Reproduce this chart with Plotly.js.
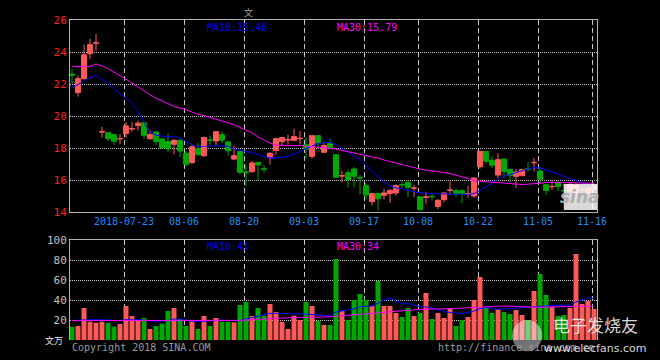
<!DOCTYPE html>
<html><head><meta charset="utf-8">
<script src="https://cdn.plot.ly/plotly-3.0.1.min.js"></script>
<style>html,body{margin:0;padding:0;background:#000;}#chart{width:660px;height:360px;}</style>
</head><body><div id="chart"></div>
<script>
var dates = ['07-10','07-11','07-12','07-13','07-16','07-17','07-18','07-19','07-20','07-23','07-24','07-25','07-26','07-27','07-30','07-31',
'08-01','08-02','08-03','08-06','08-07','08-08','08-09','08-10','08-13','08-14','08-15','08-16','08-17','08-20','08-21','08-22','08-23','08-24','08-27','08-28','08-29','08-30','08-31',
'09-03','09-04','09-05','09-06','09-07','09-10','09-11','09-12','09-13','09-14','09-17','09-18','09-19','09-20','09-21','09-25','09-26','09-27','09-28',
'10-08','10-09','10-10','10-11','10-12','10-15','10-16','10-17','10-18','10-19','10-22','10-23','10-24','10-25','10-26','10-29','10-30','10-31',
'11-01','11-02','11-05','11-06','11-07','11-08','11-09','11-12','11-13','11-14','11-15','11-16'];

var open  = [22.62,21.46,22.33,23.89,24.55,19.0,18.96,18.83,18.57,18.9, 19.19,19.4,19.58,18.58,19.0,18.56,18.4,18.23,18.48,17.67, 17.08,17.96,17.52,18.5,18.44,18.83,18.38,17.31,17.79,16.5, 16.52,17.1,16.7,17.38,17.85,18.4,18.5,18.48,18.58,18.21, 17.48,18.77,17.73,18.31,17.58,16.25,16.46,16.69,16.15,15.65, 14.65,15.15,15.04,15.15,15.19,15.72,15.85,15.48,14.94,14.92, 14.98,14.35,14.77,15.35,15.33,15.33,15.12,15.0,16.83,17.79, 17.23,16.31,17.31,16.65,16.23,16.27,16.71,17.08,16.56,15.71, 15.58,15.81,15.35,15.27,15.19,15.38,15.19,15.4];
var high  = [22.96,22.52,24.46,24.83,25.14,19.33,18.98,18.9,18.87,19.63, 19.63,19.71,19.6,19.15,19.0,18.65,18.9,18.56,18.58,17.81, 18.23,18.31,18.7,18.77,19.05,19.02,18.4,18.15,17.8,16.96, 17.2,17.15,16.92,17.73,18.65,18.69,18.83,19.21,19.06,18.69, 18.8,18.8,18.4,18.58,17.6,16.58,16.65,16.81,16.31,15.81, 15.19,15.27,15.46,15.44,15.73,15.98,16.0,15.69,15.0,15.27, 15.19,14.81,15.2,15.92,15.48,15.44,15.65,16.15,17.8,17.8, 17.48,17.67,17.35,16.7,16.69,16.69,17.13,17.38,16.81,15.77, 16.02,16.0,15.77,15.8,15.83,15.6,15.55,15.81];
var low   = [22.0,21.21,22.3,23.58,24.08,18.65,18.42,18.19,18.23,18.65, 19.02,19.1,18.54,18.54,18.19,17.92,17.73,17.6,17.44,16.85, 17.02,17.5,17.45,18.15,18.15,18.31,17.52,17.23,16.33,15.6, 16.44,15.92,16.44,16.96,17.6,18.15,18.21,18.42,18.21,17.33, 17.33,17.94,17.69,17.94,16.15,15.85,15.54,15.54,15.1,14.73, 14.4,14.08,14.79,14.56,15.02,15.48,14.94,14.94,14.08,14.52, 14.73,14.19,14.6,15.1,14.94,14.56,14.9,14.9,16.71,17.02, 16.75,16.13,16.13,15.85,15.5,16.23,16.54,16.54,15.75,15.06, 15.4,15.31,15.23,14.9,14.46,15.06,15.06,15.27];
var close = [22.55,22.33,23.83,24.46,24.57,19.02,18.58,18.42,18.59,19.38, 19.21,19.55,18.79,18.85,18.4,18.02,17.94,18.48,17.81,16.98, 18.08,17.6,18.65,18.48,19.02,18.48,17.83,17.52,16.48,16.48, 17.06,16.94,16.68,17.67,18.58,18.65,18.52,18.71,18.6,17.94, 18.77,18.31,18.15,18.04,16.17,16.27,16.0,16.23,16.13,15.06, 15.15,14.83,15.19,15.35,15.65,15.7,15.54,15.5,14.15,14.94, 14.96,14.73,15.19,15.37,15.13,15.15,15.15,16.13,17.79,17.17, 16.92,17.27,16.54,16.29,16.5,16.65,16.69,17.1,16.04,15.35, 15.6,15.58,15.33,15.73,15.65,15.4,15.5,15.65];

var ma10 = [21.75,21.95,22.2,22.4,22.54,22.3,22.02,21.7,21.4,21.15, 20.8,20.3,19.6,19.0,18.8,18.75,18.73,18.7,18.65,18.4, 18.2,18.08,18.08,18.12,18.15,18.15,18.12,17.95,17.85,17.78, 17.7,17.56,17.45,17.38,17.38,17.4,17.5,17.62,17.79,17.95, 18.1,18.28,18.33,18.35,18.2,18.0,17.75,17.5,17.27,16.9, 16.55,16.15,15.85,15.65,15.5,15.45,15.35,15.28,15.2,15.17, 15.15,15.14,15.13,15.12,15.1,15.08,15.1,15.15,15.35,15.6, 15.8,16.05,16.25,16.33,16.45,16.6,16.7,16.78,16.75,16.65, 16.5,16.38,16.2,16.08,15.98,15.85,15.7,15.48];
var ma30 = [23.1,23.1,23.1,23.1,23.25,23.15,22.95,22.75,22.5,22.3, 22.05,21.8,21.55,21.35,21.1,20.95,20.75,20.6,20.5,20.4, 20.25,20.1,20.02,19.92,19.82,19.72,19.58,19.45,19.3,19.12, 18.95,18.7,18.5,18.31,18.17,18.15,18.15,18.15,18.15,18.1, 18.06,18.06,18.03,18.0,17.93,17.85,17.76,17.68,17.6,17.52, 17.45,17.38,17.25,17.15,17.04,16.95,16.85,16.75,16.68,16.62, 16.58,16.54,16.47,16.4,16.3,16.22,16.1,15.96,15.92,15.88, 15.85,15.83,15.81,15.8,15.75,15.71,15.72,15.77,15.8,15.85, 15.85,15.85,15.85,15.83,15.82,15.81,15.8,15.79];

var volume = [13.3,14,32,18.3,17.3,18.3,17.3,13.3,16,34, 24,20,22,11,14,16.3,29,32,21,14, 19,11,24,14,22,18.3,18.3,17.7,35,38, 24,32,24.3,36,28,18.3,11,24.3,20,38, 34,19,15,15,81,29.3,20,40,46,40, 34,59,34,34,27,23,32,24,27,47, 21,27,22,32,14,20,23,40,63,32, 27,31,28,26,30,25,20,49,66,45, 33,24,25,32,86,36,39,31];
var volMa10 = [19.5,20,20.3,20.3,20.3,20.3,20,19.5,19.5,20.3, 20.3,20.3,20,19,18.7,18.7,19.5,21,21,20, 18.7,18.7,18.7,19,19.5,20,19.5,19.3,19.3,21, 22.3,24,25.5,26.7,26.7,26.7,26.7,26.7,26.7,26, 25.5,25,24.7,24.3,28,29.3,30,31,33.3,33.7, 34,37,40,41.7,39,36,36.5,35,33.3,33, 32,30,28.5,27.5,27,26.7,27.5,29,31.5,32.3, 31.5,30.7,31,31.5,32,32.3,32.5,33,33.3,34, 34.5,34.7,35,35,38,40.5,42.5,41];
var volMa30 = [19.5,19.5,19.6,19.6,19.7,19.7,19.7,19.6,19.5,19.5, 19.6,19.6,19.6,19.5,19.4,19.3,19.3,19.4,19.5,19.5, 19.4,19.3,19.3,19.2,19.2,19.0,19.1,19.3,19.6,20.0, 20.4,20.8,21.2,21.6,21.9,22.1,22.2,22.3,22.4,22.5, 22.6,22.7,22.9,23.2,23.8,24.2,24.6,25,25.4,25.8, 26.3,27,27.6,28.2,28.8,29.4,30,30.4,30.7,30.8, 30.8,31,31.2,31.4,31.6,31.8,32.1,32.4,32.8,33.2, 33.6,34,34,33.8,33.4,33,32.8,32.7,32.8,33, 33.2,33.3,33.3,33.3,33.5,33.7,33.9,34];

var tickDates  = ['07-23','08-06','08-20','09-03','09-17','10-08','10-22','11-05','11-16'];
var tickLabels = ['2018-07-23','08-06','08-20','09-03','09-17','10-08','10-22','11-05','11-16'];
var priceTicks = [14,16,18,20,22,24,26];
var volTicks = [20,40,60,80,100];

var RED = '#ff5a5a', GREEN = '#00a800';
var MONO = 'DejaVu Sans Mono, monospace';
var idx = dates.map(function(d,i){return i;});
var tickIdx = tickDates.map(function(d){return dates.indexOf(d) - 0.33;});
var volColors = close.map(function(c,i){return c >= open[i] ? RED : GREEN;});

var traces = [
  {type:'candlestick', x:idx, open:open, high:high, low:low, close:close, xaxis:'x', yaxis:'y',
   increasing:{line:{color:RED,width:1}, fillcolor:RED},
   decreasing:{line:{color:GREEN,width:1}, fillcolor:GREEN},
   whiskerwidth:0, hoverinfo:'skip'},
  {type:'scatter', mode:'lines', x:idx, y:ma10, line:{color:'#0000ff',width:1}, xaxis:'x', yaxis:'y', hoverinfo:'skip'},
  {type:'scatter', mode:'lines', x:idx, y:ma30, line:{color:'#ff00ff',width:1}, xaxis:'x', yaxis:'y', hoverinfo:'skip'},
  {type:'bar', x:idx, y:volume, marker:{color:volColors, line:{width:0}}, width:0.83, xaxis:'x2', yaxis:'y2', hoverinfo:'skip'},
  {type:'scatter', mode:'lines', x:idx, y:volMa10, line:{color:'#0000ff',width:1}, xaxis:'x2', yaxis:'y2', hoverinfo:'skip'},
  {type:'scatter', mode:'lines', x:idx, y:volMa30, line:{color:'#ff00ff',width:1}, xaxis:'x2', yaxis:'y2', hoverinfo:'skip'}
];

var GRID = '#c8c8c8', BORDER = '#b4b4b4';
var layout = {
  width:660, height:360, margin:{l:70, r:63, t:20, b:20},
  paper_bgcolor:'#000', plot_bgcolor:'#000', showlegend:false, hovermode:false,
  boxgap:0.15, boxgroupgap:0, barmode:'overlay',
  font:{family:MONO, size:10, color:'#c0c0c0'},
  xaxis:{domain:[0,1], anchor:'y', range:[-0.333, 87.5], rangeslider:{visible:false},
    tickmode:'array', tickvals:tickIdx, ticktext:tickLabels, ticks:'',
    tickfont:{family:MONO, size:10, color:'#1e8cff'},
    showgrid:true, gridcolor:GRID, griddash:'5px,3px', gridwidth:1,
    showline:true, mirror:true, linecolor:BORDER, linewidth:1, zeroline:false, fixedrange:true},
  yaxis:{domain:[0.4,1], anchor:'x', range:[14,26], tickmode:'array', tickvals:priceTicks, ticks:'',
    tickfont:{family:MONO, size:11, color:'#ff1e1e'},
    showgrid:true, gridcolor:GRID, griddash:'1px,1px', gridwidth:1,
    showline:true, mirror:true, linecolor:BORDER, linewidth:1, zeroline:false, fixedrange:true},
  xaxis2:{domain:[0,1], anchor:'y2', matches:'x', showticklabels:false, ticks:'', side:'top',
    tickmode:'array', tickvals:tickIdx,
    showgrid:true, gridcolor:GRID, griddash:'5px,3px', gridwidth:1,
    showline:true, mirror:false, linecolor:BORDER, linewidth:1, zeroline:false, fixedrange:true},
  yaxis2:{domain:[0,0.3125], anchor:'x2', range:[0,100], tickmode:'array', tickvals:volTicks, ticks:'',
    tickfont:{family:MONO, size:11, color:'#c0c0c0'},
    showgrid:true, gridcolor:GRID, griddash:'1px,1px', gridwidth:1,
    showline:true, mirror:true, linecolor:BORDER, linewidth:1, zeroline:false, fixedrange:true},
  shapes:[
    {type:'rect', xref:'paper', yref:'paper', x0:0.937, x1:1.0, y0:0.406, y1:0.4875, fillcolor:'rgba(255,255,255,0.85)', line:{width:0}, layer:'above'},
    {type:'circle', xref:'paper', yref:'paper', x0:0.839, x1:0.896, y0:-0.035, y1:0.0625, fillcolor:'rgba(255,255,255,0.45)', line:{width:0}, layer:'above'}
  ],
  annotations:[
    {xref:'paper', yref:'paper', x:0.256, y:0.978, xanchor:'left', yanchor:'middle', showarrow:false, text:'MA10:15.48', font:{family:MONO, size:10, color:'#0000ff'}},
    {xref:'paper', yref:'paper', x:0.503, y:0.978, xanchor:'left', yanchor:'middle', showarrow:false, text:'MA30:15.79', font:{family:MONO, size:10, color:'#ff00ff'}},
    {xref:'paper', yref:'paper', x:0.256, y:0.292, xanchor:'left', yanchor:'middle', showarrow:false, text:'MA10:41', font:{family:MONO, size:10, color:'#0000ff'}},
    {xref:'paper', yref:'paper', x:0.503, y:0.292, xanchor:'left', yanchor:'middle', showarrow:false, text:'MA30:34', font:{family:MONO, size:10, color:'#ff00ff'}},
    {xref:'paper', yref:'paper', x:0.338, y:1.025, xanchor:'center', yanchor:'middle', showarrow:false, text:'文', font:{family:'Noto Sans CJK SC', size:9, color:'#a0a0a0'}},
    {xref:'paper', yref:'paper', x:-0.01, y:-0.003, xanchor:'right', yanchor:'middle', showarrow:false, text:'文万', font:{family:'Noto Sans CJK SC', size:9, color:'#e8e8e8'}},
    {xref:'paper', yref:'paper', x:0, y:-0.022, xanchor:'left', yanchor:'middle', showarrow:false, text:'Copyright 2018 SINA.COM', font:{family:MONO, size:10, color:'#9a9a9a'}},
    {xref:'paper', yref:'paper', x:1, y:-0.022, xanchor:'right', yanchor:'middle', showarrow:false, text:'http://finance.sina.com.cn', font:{family:MONO, size:10, color:'#9a9a9a'}},
    {xref:'paper', yref:'paper', x:0.968, y:0.447, xanchor:'center', yanchor:'middle', showarrow:false, text:'<i><b>sina</b></i>', font:{family:'DejaVu Sans', size:17, color:'#b0b0b0'}},
    {xref:'paper', yref:'paper', x:0.913, y:0.05, xanchor:'left', yanchor:'middle', showarrow:false, text:'电子发烧友', font:{family:'Noto Sans CJK SC', size:17, color:'rgba(255,255,255,0.85)'}},
    {xref:'paper', yref:'paper', x:0.895, y:-0.025, xanchor:'left', yanchor:'middle', showarrow:false, text:'www.elecfans.com', font:{family:'DejaVu Sans', size:11, color:'rgba(255,255,255,0.85)'}}
  ]
};
Plotly.newPlot('chart', traces, layout, {displayModeBar:false, staticPlot:true});
</script></body></html>
